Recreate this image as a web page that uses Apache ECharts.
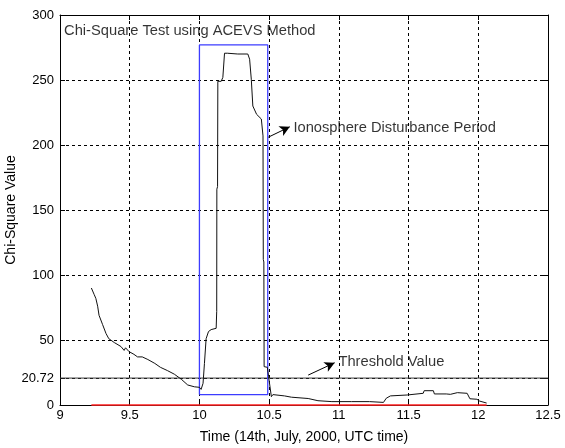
<!DOCTYPE html>
<html>
<head>
<meta charset="utf-8">
<script src="https://cdn.jsdelivr.net/npm/echarts@6/dist/echarts.min.js"></script>
<style>
html,body{margin:0;padding:0;background:#fff;}
#c{width:565px;height:448px;}
</style>
</head>
<body>
<div id="c"></div>
<script>
// ---- data ----
const timeValues = [9.225, 9.245, 9.257, 9.27, 9.28, 9.305, 9.33, 9.35, 9.39, 9.437, 9.46, 9.47, 9.496, 9.53, 9.556, 9.59, 9.63, 9.68, 9.72, 9.77, 9.82, 9.87, 9.916, 9.964, 10.0, 10.012, 10.02, 10.026, 10.036, 10.048, 10.065, 10.084, 10.12, 10.124, 10.125, 10.13, 10.132, 10.156, 10.168, 10.18, 10.2, 10.275, 10.347, 10.36, 10.372, 10.383, 10.41, 10.444, 10.456, 10.458, 10.462, 10.464, 10.487, 10.496, 10.516, 10.527, 10.61, 10.66, 10.78, 10.85, 10.95, 11.09, 11.22, 11.32, 11.34, 11.37, 11.49, 11.605, 11.612, 11.678, 11.685, 11.77, 11.8, 11.85, 11.92, 11.94, 11.99, 12.01, 12.06];
const chiValues  = [90, 85, 82, 76, 69, 62, 55, 51, 48, 45, 42, 44, 41, 39, 37, 37, 35, 32, 29, 26.5, 23.7, 19.8, 15.4, 14, 13.6, 12, 11.6, 16.7, 32, 51, 56.5, 58, 59, 72, 166, 168, 249, 249, 252, 270.6, 270.6, 270, 270, 266, 250.6, 230, 223.6, 220, 207, 112, 110, 29.5, 29, 21.8, 6.4, 8, 7, 6, 5, 3.3, 2.6, 2.6, 2.6, 2, 5.2, 7, 7.7, 9, 11, 11, 8.5, 8.5, 8.2, 9.5, 9, 4.8, 4.4, 3, 1.5];
const thresholdValue = 20.72;
const thresholdTimes = [9, 12.5];
const zeroTimes = [9.225, 12.06];
const zeroValues = [0, 0];
const boxTimes  = [10.0, 10.0, 10.49, 10.49, 10.0];
const boxValues = [8, 277, 277, 8, 8];
const yTickLabels = [0, 20.72, 50, 100, 150, 200, 250, 300];
const xTickInterval = 0.5;
const titleText = 'Chi-Square Test using ACEVS Method';
const disturbanceText = 'Ionosphere Disturbance Period';
const thresholdText = 'Threshold Value';
const xAxisName = 'Time (14th, July, 2000, UTC time)';
const yAxisName = 'Chi-Square Value';

const zip = (a, b) => a.map((v, i) => [v, b[i]]);

const chart = echarts.init(document.getElementById('c'));
const FONT = 'Liberation Sans, Arial, sans-serif';
const dashed = {show: true, lineStyle: {color: '#000', type: [3, 3], width: 1}};

chart.setOption({
  animation: false,
  backgroundColor: '#fff',
  textStyle: {fontFamily: FONT},
  grid: {left: 60, top: 15, width: 488, height: 390, show: false, containLabel: false, outerBoundsMode: 'none'},
  xAxis: [{
    type: 'value', min: 9, max: 12.5, interval: xTickInterval, z: 0,
    name: xAxisName, nameLocation: 'middle', nameGap: 25, nameMoveOverlap: false,
    nameTextStyle: {fontSize: 14, color: '#000', fontFamily: FONT},
    axisLine: {show: true, onZero: false, lineStyle: {color: '#000', width: 1}},
    axisTick: {show: true, inside: true, length: 5, lineStyle: {color: '#000'}},
    axisLabel: {fontSize: 13, color: '#000', margin: 4, fontFamily: FONT},
    splitLine: dashed
  }, {
    type: 'value', min: 9, max: 12.5, interval: xTickInterval, position: 'top', z: 0,
    axisLine: {show: true, onZero: false, lineStyle: {color: '#000', width: 1}},
    axisTick: {show: true, inside: true, length: 5, lineStyle: {color: '#000'}},
    axisLabel: {show: false}, splitLine: {show: false}
  }],
  yAxis: [{
    type: 'value', min: 0, max: 300, interval: 50, z: 0,
    name: yAxisName, nameLocation: 'middle', nameGap: 42, nameRotate: 90, nameMoveOverlap: false,
    nameTextStyle: {fontSize: 14, color: '#000', fontFamily: FONT},
    axisLine: {show: true, onZero: false, lineStyle: {color: '#000', width: 1}},
    axisTick: {show: true, inside: true, length: 5, customValues: yTickLabels, lineStyle: {color: '#000'}},
    axisLabel: {fontSize: 13, color: '#000', margin: 6, customValues: yTickLabels, fontFamily: FONT,
      formatter: v => String(v)},
    splitLine: dashed
  }, {
    type: 'value', min: 0, max: 300, interval: 50, position: 'right', z: 0,
    axisLine: {show: true, onZero: false, lineStyle: {color: '#000', width: 1}},
    axisTick: {show: true, inside: true, length: 5, customValues: yTickLabels, lineStyle: {color: '#000'}},
    axisLabel: {show: false}, splitLine: {show: false}
  }],
  series: [
    {
      type: 'line', name: 'zero', data: zip(zeroTimes, zeroValues), symbol: 'none', clip: false,
      lineStyle: {color: '#ff2020', width: 1.5}, z: 10, silent: true
    },
    {
      type: 'line', name: 'threshold', data: zip(thresholdTimes, [thresholdValue, thresholdValue]), symbol: 'none',
      lineStyle: {color: '#3a3a3a', width: 1}, z: 3, silent: true
    },
    {
      type: 'line', name: 'box', data: zip(boxTimes, boxValues), symbol: 'none',
      lineStyle: {color: '#3c3cff', width: 1.3}, z: 4, silent: true
    },
    {
      type: 'line', name: 'chi', data: zip(timeValues, chiValues), symbol: 'none',
      lineStyle: {color: '#111', width: 1}, z: 5, silent: true
    },
    {
      type: 'scatter', name: 'annotations', symbolSize: 0, z: 6, silent: true,
      data: [
        {value: [9.022, 288], name: titleText},
        {value: [10.667, 213.5], name: disturbanceText},
        {value: [10.99, 33.5], name: thresholdText}
      ],
      label: {show: true, position: 'right', distance: 1, color: '#000', fontSize: 14.7, fontFamily: FONT,
        formatter: p => p.name},
      markLine: {
        silent: true, symbol: ['none', 'arrow'], symbolSize: [8, 10],
        label: {show: false},
        lineStyle: {color: '#000', type: 'solid', width: 1},
        data: [
          [{coord: [10.494, 206]}, {coord: [10.648, 214]}],
          [{coord: [10.78, 23]}, {coord: [10.97, 32.5]}]
        ]
      }
    }
  ]
});
</script>
</body>
</html>
